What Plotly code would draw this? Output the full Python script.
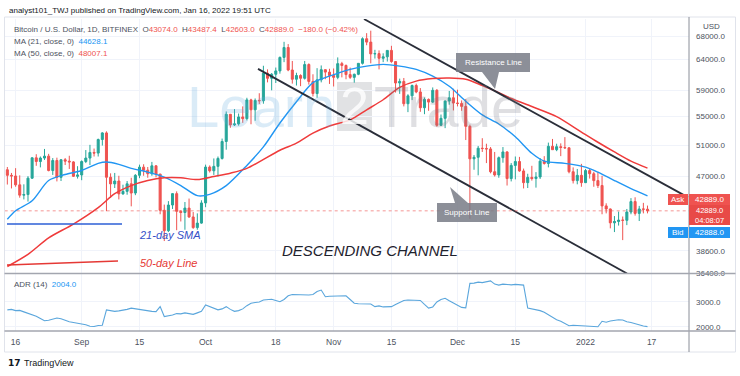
import math
import pandas as pd
import plotly.graph_objects as go

# ---------------- data ----------------
dates = pd.date_range("2021-08-14", "2022-01-16", freq="D")

opens = (
    [47800, 47100, 47020, 45930, 44700, 44770, 46750, 49330, 48850, 49300, 49550, 47700, 48980, 46850, 49080, 48900, 48800, 46980]
    + [47150, 48850, 49300, 50030, 49950, 51770, 52680, 46860, 46050, 46400, 44850, 45150, 46060, 44950, 47100, 48130, 47750, 47300, 48300, 47250, 42950, 40700, 43550, 44880, 42830, 42700, 43200, 42200, 41030, 41520]
    + [43790, 48140, 47670, 48230, 49250, 51500, 55340, 53800, 53950, 54950, 54700, 57480, 56000, 57400, 57350, 61670, 60850, 61500, 62050, 64300, 66000, 62200, 60700, 61300, 60850, 63100, 60350, 58450, 60600, 62250, 61850]
    + [61300, 61000, 63250, 62950, 61450, 61000, 61500, 63300, 67550, 66950, 64900, 64950, 64150, 64400, 65500, 63600, 60100, 60350, 56900, 58100, 59700, 58700, 56300, 57550, 57150, 58950, 53750, 54750, 57300, 57800]
    + [57000, 56950, 56500, 53600, 49200, 49400, 50600, 50550, 50500, 47550, 47150, 49350, 50100, 46700, 48350, 48850, 47650, 46200, 46850, 46700, 46900, 48900, 48600, 50850, 50400, 50800, 50700, 50650, 47550, 46450, 47100]
    + [46200, 47700, 47300, 46450, 45850, 43450, 43100, 41550, 41700, 41850, 41830, 42750, 43950, 42600, 43100, 43074]
)
highs = (
    [48150, 47400, 48000, 47100, 46000, 47000, 49400, 49800, 49500, 50500, 49850, 49300, 49350, 49150, 49300, 49600, 48900, 48250]
    + [49000, 50350, 51050, 50550, 51900, 52780, 52900, 47350, 47400, 47050, 45950, 46400, 46800, 47250, 48450, 48500, 48150, 48800, 48350, 47300, 43600, 44000, 44950, 45150, 42950, 43900, 44300, 42750, 42600, 44100]
    + [48450, 48350, 49250, 49500, 51900, 55750, 55350, 56100, 55450, 56500, 57800, 57650, 57700, 58500, 62900, 62300, 61700, 62600, 64450, 67000, 66600, 63700, 61750, 61500, 63700, 63300, 61500, 62500, 62950, 62300, 62400]
    + [62450, 64300, 63550, 63100, 62600, 61600, 63300, 67800, 68550, 69000, 65600, 65500, 65000, 65500, 66300, 63600, 60800, 60900, 58350, 59850, 60000, 59300, 57850, 57700, 59400, 59150, 55300, 57400, 58850, 59200]
    + [59050, 57400, 57600, 53850, 49700, 50900, 51950, 51200, 50750, 50100, 49500, 50750, 50200, 48650, 49500, 49450, 47950, 47300, 48300, 47500, 49300, 49550, 51350, 51850, 51200, 51250, 52100, 50700, 48100, 47900, 48550]
    + [47900, 47950, 47550, 47500, 47050, 43750, 43150, 42300, 42800, 42250, 43100, 44350, 44450, 43450, 43800, 43487.4]
)
lows = (
    [45970, 45500, 45700, 44400, 44200, 43950, 46650, 48300, 48100, 49050, 47600, 47150, 46350, 46400, 48400, 47900, 46900, 46700]
    + [46500, 48650, 48400, 49500, 49500, 50950, 42850, 44400, 45550, 44200, 44750, 44750, 43400, 44700, 46750, 47050, 46800, 47050, 46850, 42500, 39600, 40550, 43100, 40750, 41700, 40800, 42100, 40900, 40800, 41450]
    + [43300, 47450, 47150, 46950, 49100, 50400, 53400, 53650, 53700, 54100, 54450, 53900, 54400, 56850, 56900, 60200, 58950, 60100, 61600, 63500, 62000, 60000, 59700, 59600, 60650, 59850, 58000, 57800, 60200, 60700, 59950]
    + [59550, 60700, 61000, 60700, 60750, 60150, 61350, 63100, 66400, 63300, 64100, 62300, 63500, 63600, 63400, 58600, 58400, 56500, 55650, 57450, 58500, 55700, 55350, 55850, 57000, 53550, 53650, 53350, 56750, 55900]
    + [56500, 55850, 51700, 42000, 47800, 47100, 50100, 48650, 47350, 46950, 46800, 48700, 45850, 46350, 46600, 47550, 45500, 45550, 46450, 45600, 46650, 48450, 48100, 50400, 50200, 49550, 50500, 47350, 46100, 46000, 45700]
    + [46150, 46700, 45700, 45550, 42500, 42600, 40950, 40550, 41250, 39700, 41300, 42500, 42350, 41750, 42600, 42603]
)
closes = (
    [47100, 47020, 45930, 44700, 44770, 46750, 49330, 48850, 49300, 49550, 47700, 48980, 46850, 49080, 48900, 48800, 46980, 47150]
    + [48850, 49300, 50030, 49950, 51770, 52680, 46860, 46050, 46400, 44850, 45150, 46060, 44950, 47100, 48130, 47750, 47300, 48300, 47250, 42950, 40700, 43550, 44880, 42830, 42700, 43200, 42200, 41030, 41520, 43790]
    + [48140, 47670, 48230, 49250, 51500, 55340, 53800, 53950, 54950, 54700, 57480, 56000, 57400, 57350, 61670, 60850, 61500, 62050, 64300, 66000, 62200, 60700, 61300, 60850, 63100, 60350, 58450, 60600, 62250, 61850, 61300]
    + [61000, 63250, 62950, 61450, 61000, 61500, 63300, 67550, 66950, 64900, 64950, 64150, 64400, 65500, 63600, 60100, 60350, 56900, 58100, 59700, 58700, 56300, 57550, 57150, 58950, 53750, 54750, 57300, 57800, 57000]
    + [56950, 56500, 53600, 49200, 49400, 50600, 50550, 50500, 47550, 47150, 49350, 50100, 46700, 48350, 48850, 47650, 46200, 46850, 46700, 46900, 48900, 48600, 50850, 50400, 50800, 50700, 50650, 47550, 46450, 47100, 46200]
    + [47700, 47300, 46450, 45850, 43450, 43100, 41550, 41700, 41850, 41830, 42750, 43950, 42600, 43100, 43074, 42889]
)
adr_values = (
    [2680, 2700, 2650, 2660, 2600, 2550, 2500, 2420, 2330, 2240, 2260, 2300, 2350, 2320, 2250, 2200, 2170, 2150]
    + [2100, 2080, 2020, 2010, 2050, 2060, 2680, 2640, 2620, 2640, 2660, 2700, 2750, 2720, 2680, 2660, 2640, 2620, 2610, 2810, 2410, 2430, 2470, 2530, 2520, 2560, 2540, 2500, 2560, 2620]
    + [2880, 2820, 2760, 2680, 2720, 2810, 2700, 2620, 2650, 2720, 2850, 2950, 2980, 3000, 3080, 3100, 3110, 3060, 3010, 3100, 3250, 3300, 3290, 3280, 3270, 3280, 3300, 3420, 3480, 3210, 3230]
    + [3240, 3250, 3260, 3250, 3100, 2950, 2930, 2920, 2900, 2920, 2810, 2840, 2800, 2790, 2810, 2900, 2980, 3060, 3080, 3070, 3080, 3060, 2900, 2750, 2800, 3000, 3100, 3150, 3050, 2950]
    + [2880, 2780, 2760, 3750, 3760, 3800, 3780, 3830, 3850, 3720, 3680, 3720, 3700, 3690, 3710, 3700, 3680, 2750, 2720, 2680, 2650, 2580, 2480, 2380, 2280, 2220, 2120, 2040, 2060, 2050, 2060]
    + [2040, 2020, 2010, 2000, 2220, 2180, 2230, 2260, 2280, 2270, 2200, 2170, 2120, 2080, 2030, 2004]
)

ma21_dates = ["2021-08-14", "2021-08-16", "2021-08-20", "2021-08-24", "2021-08-28", "2021-09-01", "2021-09-05",
              "2021-09-07", "2021-09-10", "2021-09-13", "2021-09-17", "2021-09-21", "2021-09-25", "2021-09-29",
              "2021-10-02", "2021-10-06", "2021-10-11", "2021-10-15", "2021-10-19", "2021-10-23", "2021-10-27",
              "2021-10-31", "2021-11-05", "2021-11-09", "2021-11-13", "2021-11-17", "2021-11-21", "2021-11-25",
              "2021-11-29", "2021-12-03", "2021-12-07", "2021-12-11", "2021-12-15", "2021-12-19", "2021-12-22",
              "2021-12-27", "2022-01-01", "2022-01-04", "2022-01-08", "2022-01-12", "2022-01-16"]
ma21_values = [41940, 42890, 44040, 46460, 47200, 47710, 48610, 48780, 48480, 47970, 47500, 46870, 45840, 44640,
               44800, 45840, 48350, 50770, 54080, 57200, 60170, 61190, 62290, 62840, 63130, 62840, 62290, 61190,
               59580, 57270, 55250, 53940, 52140, 49920, 48900, 48610, 48140, 47500, 46460, 45480, 44628.1]

ma50_dates = ["2021-08-14", "2021-08-19", "2021-08-24", "2021-08-30", "2021-09-05", "2021-09-09", "2021-09-13",
              "2021-09-17", "2021-09-21", "2021-09-25", "2021-09-29", "2021-10-03", "2021-10-07", "2021-10-11",
              "2021-10-19", "2021-10-23", "2021-10-27", "2021-10-31", "2021-11-05", "2021-11-09", "2021-11-13",
              "2021-11-17", "2021-11-21", "2021-11-25", "2021-11-29", "2021-12-03", "2021-12-07", "2021-12-11",
              "2021-12-14", "2021-12-19", "2021-12-25", "2021-12-31", "2022-01-04", "2022-01-08", "2022-01-12",
              "2022-01-16"]
ma50_values = [37030, 38240, 39940, 41420, 43260, 44870, 45840, 46460, 46790, 46790, 46580, 46960, 47370, 47970,
               50330, 51270, 52660, 53650, 54520, 55990, 57500, 59400, 60400, 60800, 60900, 60700, 59700, 58600,
               57700, 56480, 55000, 52800, 51400, 50100, 48900, 48007.1]

# hand-drawn channel lines (date, price)
resistance_dates = ["2021-11-08 08:38", "2022-01-25 19:27"]
resistance_prices = [71160, 44440]
support_dates = ["2021-10-13 16:33", "2022-01-11 00:58"]
support_prices = [62380, 36350]

last_price = 42889

price_ticks = [36400, 38600, 47000, 51000, 55000, 59000, 64000, 68000]
price_tick_text = ["36400.0", "38600.0", "47000.0", "51000.0", "55000.0", "59000.0", "64000.0", "68000.0"]
adr_ticks = [2000, 3000]
adr_tick_text = ["2000.0", "3000.0"]
date_ticks = ["2021-08-16", "2021-09-01", "2021-09-15", "2021-10-01", "2021-10-18", "2021-11-01",
              "2021-11-15", "2021-12-01", "2021-12-15", "2022-01-01", "2022-01-17"]
date_tick_text = ["16", "Sep", "15", "Oct", "18", "Nov", "15", "Dec", "15", "2022", "17"]

# ---------------- styling ----------------
W, H = 740, 376
ML, MR, MT, MB = 5, 51, 19, 45
PW, PH = W - ML - MR, H - MT - MB


def px(x):
    return (x - ML) / PW


def py(y):
    return 1 - (y - MT) / PH


ADR_FRAC = (331 - 273.5) / PH
GREEN = "#26a69a"
RED = "#ef5350"
MA_BLUE = "#2196f3"
MA_RED = "#ef3b3b"
GRID = "#f0f3fa"
TXT = "#131722"
AXT = "#4c525e"
FONT = "Liberation Sans, Arial, sans-serif"

fig = go.Figure()

fig.add_trace(go.Candlestick(
    x=dates, open=opens, high=highs, low=lows, close=closes,
    increasing=dict(line=dict(color=GREEN, width=1), fillcolor=GREEN),
    decreasing=dict(line=dict(color=RED, width=1), fillcolor=RED),
    whiskerwidth=0, showlegend=False, hoverinfo="skip", xaxis="x", yaxis="y"))

fig.add_trace(go.Scatter(x=ma21_dates, y=ma21_values, mode="lines", showlegend=False, hoverinfo="skip",
                         line=dict(color=MA_BLUE, width=1.4, shape="spline", smoothing=0.8), xaxis="x", yaxis="y"))
fig.add_trace(go.Scatter(x=ma50_dates, y=ma50_values, mode="lines", showlegend=False, hoverinfo="skip",
                         line=dict(color=MA_RED, width=1.5, shape="spline", smoothing=0.8), xaxis="x", yaxis="y"))
fig.add_trace(go.Scatter(x=resistance_dates, y=resistance_prices, mode="lines", showlegend=False, hoverinfo="skip",
                         line=dict(color="#2a2e39", width=1.8), xaxis="x", yaxis="y"))
fig.add_trace(go.Scatter(x=support_dates, y=support_prices, mode="lines", showlegend=False, hoverinfo="skip",
                         line=dict(color="#2a2e39", width=1.8), xaxis="x", yaxis="y"))
fig.add_trace(go.Scatter(x=[dates[0] - pd.Timedelta(days=5), dates[-1] + pd.Timedelta(days=20)],
                         y=[last_price, last_price], mode="lines", showlegend=False, hoverinfo="skip",
                         line=dict(color=RED, width=1, dash="dot"), opacity=0.6, xaxis="x", yaxis="y"))

fig.add_trace(go.Scatter(x=dates, y=adr_values, mode="lines", showlegend=False, hoverinfo="skip",
                         line=dict(color="#5aa6dc", width=1.1), xaxis="x2", yaxis="y2"))

xrange_ = ["2021-08-13 10:24", "2022-01-26 01:12"]
ymin, ymax = 36350, 71160

shapes = []
annotations = []

# frame / separators
shapes.append(dict(type="rect", xref="paper", yref="paper", x0=px(4.5), x1=px(735.5), y0=py(352), y1=py(17),
                   line=dict(color="#e0e3eb", width=1), fillcolor="rgba(0,0,0,0)", layer="above"))
shapes.append(dict(type="line", xref="paper", yref="paper", x0=px(689), x1=px(689), y0=py(352), y1=py(17),
                   line=dict(color="#8a8e98", width=1)))
for yy in (273.5, 331):
    shapes.append(dict(type="line", xref="paper", yref="paper", x0=px(4.5), x1=px(735.5), y0=py(yy), y1=py(yy),
                       line=dict(color="#a3a6af", width=1.6)))

# watermark
shapes.append(dict(type="rect", xref="paper", yref="paper", x0=px(337), x1=px(372), y0=py(131), y1=py(82),
                   line=dict(width=0), fillcolor="rgba(120,123,134,0.22)", layer="below"))
annotations.append(dict(text="Learn", xref="paper", yref="paper", x=px(337), y=py(106), xanchor="right",
                        yanchor="middle", showarrow=False,
                        font=dict(family="Liberation Sans, Arial", size=58, color="rgba(100,170,220,0.24)")))
annotations.append(dict(text="2", xref="paper", yref="paper", x=px(354.5), y=py(106), xanchor="center",
                        yanchor="middle", showarrow=False,
                        font=dict(family="Liberation Sans, Arial", size=52, color="rgba(255,255,255,0.8)")))
annotations.append(dict(text="Trade", xref="paper", yref="paper", x=px(372), y=py(106), xanchor="left",
                        yanchor="middle", showarrow=False,
                        font=dict(family="Liberation Sans, Arial", size=58, color="rgba(120,123,134,0.24)")))

# left-side legend drawings
shapes.append(dict(type="line", xref="paper", yref="paper", x0=px(7), x1=px(122), y0=py(224), y1=py(224),
                   line=dict(color="#2d5fd6", width=1.5)))
shapes.append(dict(type="line", xref="paper", yref="paper", x0=px(7), x1=px(118), y0=py(265), y1=py(261),
                   line=dict(color="#e53935", width=1.5)))
annotations.append(dict(text="<i>21-day SMA</i>", xref="paper", yref="paper", x=px(137), y=py(235),
                        xanchor="left", yanchor="middle", showarrow=False,
                        font=dict(family=FONT, size=11, color="#3550c8")))
annotations.append(dict(text="<i>50-day Line</i>", xref="paper", yref="paper", x=px(138), y=py(263),
                        xanchor="left", yanchor="middle", showarrow=False,
                        font=dict(family=FONT, size=11, color="#e53935")))
annotations.append(dict(text="<i>DESCENDING CHANNEL</i>", xref="paper", yref="paper", x=px(369.5), y=py(250.5),
                        xanchor="center", yanchor="middle", showarrow=False,
                        font=dict(family=FONT, size=15, color="#1e222d")))

# callouts
CALL = "rgba(120,123,134,0.85)"
shapes.append(dict(type="path", xref="paper", yref="paper",
                   path=f"M {px(456)} {py(53)} L {px(530)} {py(53)} L {px(530)} {py(72)} L {px(499)} {py(72)} "
                        f"L {px(495)} {py(89)} L {px(482)} {py(72)} L {px(456)} {py(72)} Z",
                   line=dict(width=0), fillcolor=CALL))
annotations.append(dict(text="Resistance Line", xref="paper", yref="paper", x=px(493), y=py(62.5),
                        xanchor="center", yanchor="middle", showarrow=False,
                        font=dict(family=FONT, size=8, color="white")))
shapes.append(dict(type="path", xref="paper", yref="paper",
                   path=f"M {px(437)} {py(203)} L {px(455)} {py(203)} L {px(450)} {py(187)} L {px(468)} {py(203)} "
                        f"L {px(497)} {py(203)} L {px(497)} {py(222)} L {px(437)} {py(222)} Z",
                   line=dict(width=0), fillcolor=CALL))
annotations.append(dict(text="Support Line", xref="paper", yref="paper", x=px(467), y=py(212.5),
                        xanchor="center", yanchor="middle", showarrow=False,
                        font=dict(family=FONT, size=8, color="white")))

# header texts
annotations.append(dict(text="analyst101_TWJ published on TradingView.com, Jan 16, 2022 19:51 UTC",
                        xref="paper", yref="paper", x=px(7), y=py(10.5), xanchor="left", yanchor="middle",
                        showarrow=False, font=dict(family=FONT, size=8, color=TXT)))
r = lambda s: f"<span style='color:{RED}'>{s}</span>"
sp = "\u00a0\u00a0"
hdr2 = ("Bitcoin / U.S. Dollar, 1D, BITFINEX" + sp + "O" + r("43074.0") + sp + "H" + r("43487.4") + sp
        + "L" + r("42603.0") + sp + "C" + r("42889.0") + sp + r("\u2212180.0 (\u22120.42%)"))
annotations.append(dict(text=hdr2, xref="paper", yref="paper", x=px(12), y=py(29.5), xanchor="left",
                        yanchor="middle", showarrow=False, font=dict(family=FONT, size=8, color=AXT)))
annotations.append(dict(text="MA (21, close, 0)" + sp + f"<span style='color:{MA_BLUE}'>44628.1</span>",
                        xref="paper", yref="paper", x=px(12), y=py(42), xanchor="left", yanchor="middle",
                        showarrow=False, font=dict(family=FONT, size=8, color=AXT)))
annotations.append(dict(text="MA (50, close, 0)" + sp + f"<span style='color:{RED}'>48007.1</span>",
                        xref="paper", yref="paper", x=px(12), y=py(53), xanchor="left", yanchor="middle",
                        showarrow=False, font=dict(family=FONT, size=8, color=AXT)))
annotations.append(dict(text="ADR (14)" + sp + f"<span style='color:{MA_BLUE}'>2004.0</span>",
                        xref="paper", yref="paper", x=px(12), y=py(284), xanchor="left", yanchor="middle",
                        showarrow=False, font=dict(family=FONT, size=8, color=AXT)))
annotations.append(dict(text="USD", xref="paper", yref="paper", x=px(711), y=py(26.5), xanchor="center",
                        yanchor="middle", showarrow=False, font=dict(family=FONT, size=8, color=AXT)))

# price badges
def badge(x0, x1, y0, y1, color):
    shapes.append(dict(type="rect", xref="paper", yref="paper", x0=px(x0), x1=px(x1), y0=py(y1), y1=py(y0),
                       line=dict(width=0), fillcolor=color, layer="above"))


def btxt(text, x, y, size=8):
    annotations.append(dict(text=text, xref="paper", yref="paper", x=px(x), y=py(y), xanchor="center",
                            yanchor="middle", showarrow=False, font=dict(family=FONT, size=size, color="white")))


badge(668, 688, 194, 205, RED)
btxt("Ask", 678, 199.5)
badge(689, 730, 194, 205, RED)
btxt("42889.0", 709.5, 199.5)
badge(689, 730, 205, 225, "#e84a47")
btxt("42889.0<br>04:08:07", 709.5, 215, 7.5)
badge(668, 688, 227, 238, "#2196f3")
btxt("Bid", 678, 232.5)
badge(689, 730, 227, 238, "#2196f3")
btxt("42888.0", 709.5, 232.5)

# TradingView footer
annotations.append(dict(text="<b>17</b>", xref="paper", yref="paper", x=px(6), y=py(363), xanchor="left",
                        yanchor="middle", showarrow=False, font=dict(family="DejaVu Sans", size=9, color=TXT)))
annotations.append(dict(text="TradingView", xref="paper", yref="paper", x=px(22), y=py(363), xanchor="left",
                        yanchor="middle", showarrow=False, font=dict(family=FONT, size=9, color=TXT)))

axis_font = dict(family=FONT, size=8, color=AXT)
fig.update_layout(
    width=W, height=H, margin=dict(l=ML, r=MR, t=MT, b=MB),
    paper_bgcolor="white", plot_bgcolor="white", showlegend=False,
    xaxis=dict(domain=[0, 1], anchor="y", type="date", range=xrange_, tickvals=date_ticks,
               showticklabels=False, showgrid=True, gridcolor=GRID, zeroline=False, ticks="",
               rangeslider=dict(visible=False), fixedrange=True),
    xaxis2=dict(domain=[0, 1], anchor="y2", type="date", range=xrange_, matches="x", tickvals=date_ticks,
                ticktext=date_tick_text, showgrid=True, gridcolor=GRID, zeroline=False, ticks="",
                tickfont=dict(family=FONT, size=8.5, color=AXT), ticklabelstandoff=4),
    yaxis=dict(domain=[ADR_FRAC, 1], anchor="x", type="log", side="right",
               range=[math.log10(ymin), math.log10(ymax)], tickvals=price_ticks, ticktext=price_tick_text,
               showgrid=True, gridcolor=GRID, zeroline=False, ticks="", tickfont=axis_font,
               ticklabelstandoff=6),
    yaxis2=dict(domain=[0, ADR_FRAC], anchor="x2", side="right", range=[1828, 4148], tickvals=adr_ticks,
                ticktext=adr_tick_text, showgrid=True, gridcolor=GRID, zeroline=False, ticks="",
                tickfont=axis_font, ticklabelstandoff=6),
    shapes=shapes, annotations=annotations,
)

fig.write_html("out.html", config={"displayModeBar": False},
               post_script="document.body.style.margin='0';document.body.style.padding='0';")
